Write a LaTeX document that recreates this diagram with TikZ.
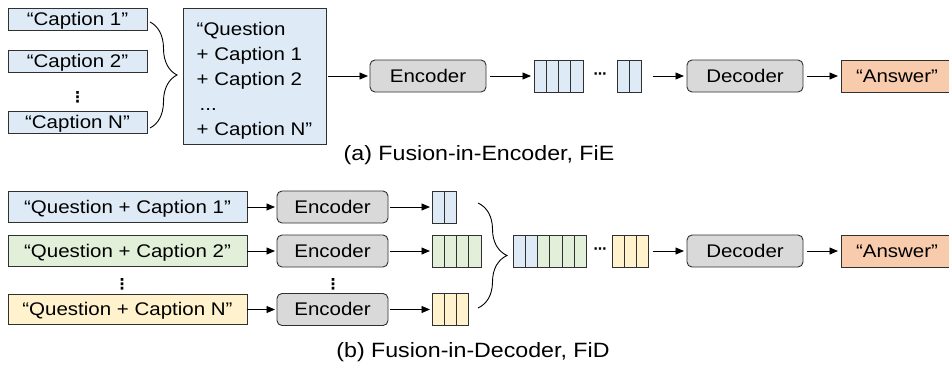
\documentclass[tikz,border=0pt]{standalone}
\usepackage{fontspec}
\setmainfont{Liberation Sans}[FakeStretch=1.12]
\newfontfamily\dotsfont{DejaVu Sans}
\usetikzlibrary{arrows.meta,decorations.pathreplacing}
\definecolor{cblue}{HTML}{DEEBF7}
\definecolor{cgreen}{HTML}{E2F0D9}
\definecolor{cyellow}{HTML}{FFF2CC}
\definecolor{corange}{HTML}{F8CBAD}
\definecolor{cgray}{HTML}{D9D9D9}
\definecolor{cline}{HTML}{303030}
\newcommand{\tokcells}[4]{%
  \foreach \k in {1,...,#3}{%
    \draw[tokcell,fill=#4] ({#1+(\k-1)*12.25},{#2-16}) rectangle ++(12.25,32);}}
\begin{document}
\begin{tikzpicture}[x=1pt,y=-1pt,
  every node/.style={font=\fontsize{18.3}{25}\selectfont, inner sep=0pt, outer sep=0pt},
  txtbox/.style={draw=cline, line width=0.9pt, text height=13pt, text depth=1pt},
  capbox/.style={txtbox, fill=cblue, minimum width=139pt, minimum height=22pt},
  qcbox/.style={txtbox, minimum width=239pt, minimum height=30.5pt},
  codec/.style={txtbox, fill=cgray, rounded corners=5pt, minimum height=32pt},
  ansbox/.style={txtbox, fill=corange, minimum width=112pt, minimum height=32pt},
  tokcell/.style={draw=cline, line width=0.9pt},
  tokframe/.style={draw=cline, line width=0.9pt, minimum height=32pt},
  conn/.style={-{Triangle[length=8.5pt,width=7pt]}, line width=0.9pt, black},
  bracestyle/.style={decorate, line width=0.9pt, black},
  vd/.style={font=\dotsfont\bfseries\fontsize{15}{15}\selectfont},
  hd/.style={font=\dotsfont\bfseries\fontsize{13}{13}\selectfont},
  captext/.style={font=\fontsize{20.7}{25}\selectfont}
]
\useasboundingbox (0,0) rectangle (949,365);

% ---------- (a) Fusion-in-Encoder ----------
\node[capbox] (c1) at (77.5,19.5) {“Caption 1”};
\node[capbox] (c2) at (77.5,61) {“Caption 2”};
\node[vd] (cvd) at (77.5,97) {⋮};
\node[capbox] (cN) at (77.5,122.5) {“Caption N”};
\draw[bracestyle, decoration={brace, amplitude=27pt}] (150,22) -- (150,128);

\node[draw=cline, line width=0.9pt, fill=cblue, minimum height=136pt,
      minimum width=143pt, align=left] (qbox) at (254.5,76)
  {\rule{0pt}{21.8pt}“Question\\+ Caption 1\\+ Caption 2\\\,...\\+ Caption N”};

\node[codec, minimum width=116pt] (encA) at (428,76) {Encoder};

\tokcells{534}{76}{4}{cblue}
\node[tokframe, minimum width=49pt] (tA1) at (558.5,76) {};
\node[hd] (dotsA) at (600,76) {⋯};
\tokcells{617}{76}{2}{cblue}
\node[tokframe, minimum width=24.5pt] (tA2) at (629.25,76) {};

\node[codec, minimum width=116pt] (decA) at (745,76) {Decoder};
\node[ansbox] (ansA) at (897,76) {“Answer”};

\draw[conn, shorten <=2pt, shorten >=2pt] (qbox) -- (encA);
\draw[conn, shorten <=4pt, shorten >=3pt] (encA) -- (tA1);
\draw[conn, shorten <=11pt, shorten >=3pt] (tA2) -- (decA);
\draw[conn, shorten <=4pt, shorten >=3pt] (decA) -- (ansA);

\node[captext] (capA) at (479,155) {(a) Fusion-in-Encoder, FiE};

% ---------- (b) Fusion-in-Decoder ----------
\node[qcbox, fill=cblue] (q1) at (127.5,207) {“Question + Caption 1”};
\node[qcbox, fill=cgreen] (q2) at (127.5,251) {“Question + Caption 2”};
\node[vd] (qvd) at (122,284) {⋮};
\node[qcbox, fill=cyellow] (qN) at (127.5,309.5) {“Question + Caption N”};

\node[codec, minimum width=111pt] (e1) at (332.5,207) {Encoder};
\node[codec, minimum width=111pt] (e2) at (332.5,251) {Encoder};
\node[vd] (evd) at (333,284) {⋮};
\node[codec, minimum width=111pt] (eN) at (332.5,309.5) {Encoder};

\tokcells{432}{207}{2}{cblue}
\node[tokframe, minimum width=24.5pt] (t1) at (444.25,207) {};
\tokcells{432}{251}{4}{cgreen}
\node[tokframe, minimum width=49pt] (t2) at (456.5,251) {};
\tokcells{432}{309.5}{3}{cyellow}
\node[tokframe, minimum width=36.75pt] (tN) at (450.375,309.5) {};

\draw[bracestyle, decoration={brace, amplitude=29pt}] (478,203) -- (478,308);

\tokcells{513}{251}{2}{cblue}
\tokcells{537.5}{251}{4}{cgreen}
\node[tokframe, minimum width=73.5pt] (comb) at (549.75,251) {};
\node[hd] (dotsB) at (600,251) {⋯};
\tokcells{612}{251}{3}{cyellow}
\node[tokframe, minimum width=36.75pt] (tY) at (630.375,251) {};

\node[codec, minimum width=116pt] (decB) at (745,251) {Decoder};
\node[ansbox] (ansB) at (897,251) {“Answer”};

\draw[conn, shorten >=2pt] (q1) -- (e1);
\draw[conn, shorten >=2pt] (q2) -- (e2);
\draw[conn, shorten >=2pt] (qN) -- (eN);
\draw[conn, shorten <=2pt, shorten >=2pt] (e1) -- (t1);
\draw[conn, shorten <=2pt, shorten >=2pt] (e2) -- (t2);
\draw[conn, shorten <=2pt, shorten >=2pt] (eN) -- (tN);
\draw[conn, shorten <=4pt, shorten >=3pt] (tY) -- (decB);
\draw[conn, shorten <=4pt, shorten >=3pt] (decB) -- (ansB);

\node[captext] (capB) at (473,352) {(b) Fusion-in-Decoder, FiD};
\end{tikzpicture}
\end{document}
